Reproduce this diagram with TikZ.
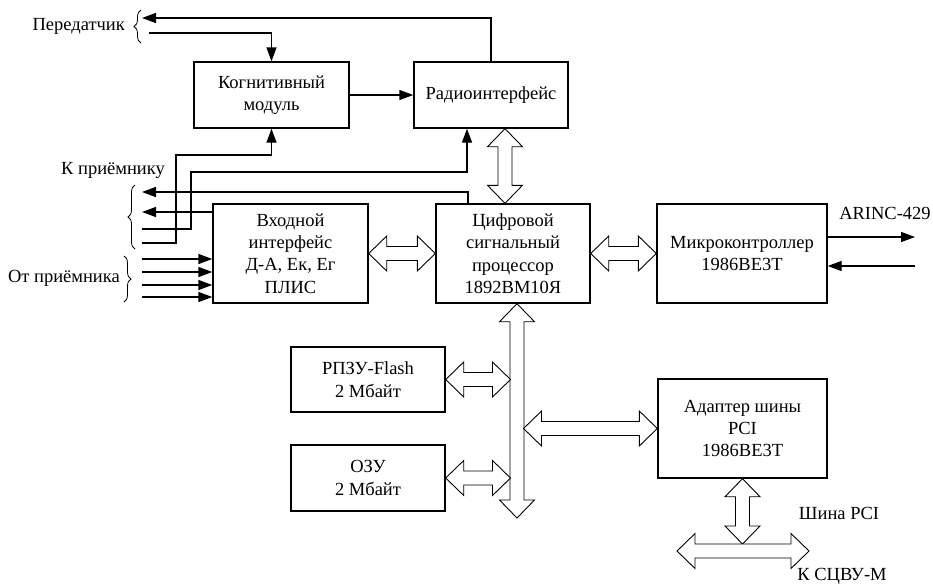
\documentclass[tikz,border=0pt]{standalone}
\usepackage{fontspec}
\setmainfont{Liberation Serif}
\newfontfamily\boxfont{Liberation Serif}
\usepackage{tikz}
\usetikzlibrary{arrows.meta,calc,decorations.pathreplacing}

% hollow two-headed arrow between two points
\newcommand{\dblarrow}[2]{%
  \draw[hollow] (#1)
    -- ($($(#1)!18pt!(#2)$)!17.5pt!90:(#2)$) -- ($($(#1)!18pt!(#2)$)!7pt!90:(#2)$)
    -- ($($(#2)!18pt!(#1)$)!7pt!-90:(#1)$) -- ($($(#2)!18pt!(#1)$)!17.5pt!-90:(#1)$)
    -- (#2)
    -- ($($(#2)!18pt!(#1)$)!17.5pt!90:(#1)$) -- ($($(#2)!18pt!(#1)$)!7pt!90:(#1)$)
    -- ($($(#1)!18pt!(#2)$)!7pt!-90:(#2)$) -- ($($(#1)!18pt!(#2)$)!17.5pt!-90:(#2)$)
    -- cycle;}

\begin{document}
\begin{tikzpicture}[
  x=1pt, y=-1pt,
  font=\boxfont\fontsize{18.5}{22.4}\selectfont,
  block/.style={draw,line width=1.4pt,align=center,inner sep=0pt},
  lbl/.style={inner sep=0pt},
  arrow/.style={-{Triangle[length=14pt,width=10pt]},line width=1.4pt},
  hollow/.style={draw,fill=white,line width=0.9pt,line join=miter},
  curly/.style={decorate,decoration={brace,amplitude=7pt},line width=0.8pt}
]
\useasboundingbox (0,0) rectangle (933,584);

% blocks
\node[block,minimum width=155pt,minimum height=66pt] (cog) at (271.5,95) {Когнитивный\\модуль};
\node[block,minimum width=154pt,minimum height=66pt] (radio) at (491,95) {Радиоинтерфейс};
\node[block,minimum width=155pt,minimum height=99pt] (inif) at (290.5,253.5) {Входной\\интерфейс\\Д-А, Ек, Ег\\ПЛИС};
\node[block,minimum width=154pt,minimum height=99pt] (dsp) at (513,253.5) {Цифровой\\сигнальный\\процессор\\1892ВМ10Я};
\node[block,minimum width=170pt,minimum height=99pt] (mcu) at (742,253.5) {Микроконтроллер\\1986ВЕ3Т};
\node[block,minimum width=154pt,minimum height=65pt] (flash) at (368,379.5) {РПЗУ-Flash\\2 Мбайт};
\node[block,minimum width=154pt,minimum height=66pt] (ram) at (368,478) {ОЗУ\\2 Мбайт};
\node[block,minimum width=169pt,minimum height=99pt] (adp) at (742.5,428.5) {Адаптер шины\\PCI\\1986ВЕ3Т};

% labels
\node[lbl,anchor=east] (txlbl) at (125,26) {Передатчик};
\node[lbl] (rxlbl) at (113,170) {К приёмнику};
\node[lbl,anchor=east] (inlbl) at (120,278) {От приёмника};
\node[lbl] (arinc) at (885,213) {ARINC-429};
\node[lbl] (pcilbl) at (839,513) {Шина PCI};
\node[lbl] (extlbl) at (842,576) {К СЦВУ-М};

% free ends
\coordinate (tx1) at (142,18);
\coordinate (tx2) at (149,33);
\coordinate (rx1) at (142,192);
\coordinate (rx2) at (142,212);
\coordinate (rx3) at (142,229);
\coordinate (rx4) at (142,243);
\foreach \y [count=\i] in {259,272,285,297}
  \coordinate (in\i) at (142,\y);
\coordinate (ar1) at (915,237);
\coordinate (ar2) at (915,266);
\coordinate (rd) at (505,0);
\coordinate (bus) at (517,518);
\coordinate (busl) at (510.5,0);
\coordinate (busr) at (523.5,0);
\coordinate (pcitop) at (744,544);
\coordinate (pcil) at (677,551);
\coordinate (pcir) at (809,551);

% braces
\draw[curly] (141,43) -- (141,10);
\draw[curly] (135,249) -- (135,185);
\draw[curly] (124,256) -- (124,302);

% signal lines
\draw[arrow] (radio.north) |- (tx1);
\draw[arrow] (tx2) -| (cog.north);
\draw[arrow] (cog.east) -- (radio.west);
\draw[arrow] ([xshift=-45pt]dsp.north) |- (rx1);
\draw[arrow] (rx2 -| inif.west) -- (rx2);
\draw[arrow] (rx3) -- ++(49,0) -- ++(0,-57) -| ([xshift=-24pt]radio.south);
\draw[arrow] (rx4) -- ++(34,0) -- ++(0,-88) -| (cog.south);
\foreach \i in {1,...,4}
  \draw[arrow] (in\i) -- (in\i -| inif.west);
\draw[arrow] (mcu.east |- ar1) -- (ar1);
\draw[arrow] (ar2) -- (ar2 -| mcu.east);

% buses
\dblarrow{radio.south -| rd}{dsp.north -| rd}
\dblarrow{inif.east}{dsp.west}
\dblarrow{dsp.east}{mcu.west}
\dblarrow{dsp.south -| bus}{bus}
\dblarrow{flash.east}{flash.east -| busl}
\dblarrow{ram.east}{ram.east -| busl}
\dblarrow{adp.west -| busr}{adp.west}
\dblarrow{adp.south}{adp.south |- pcitop}
\dblarrow{pcil}{pcir}
\end{tikzpicture}
\end{document}
